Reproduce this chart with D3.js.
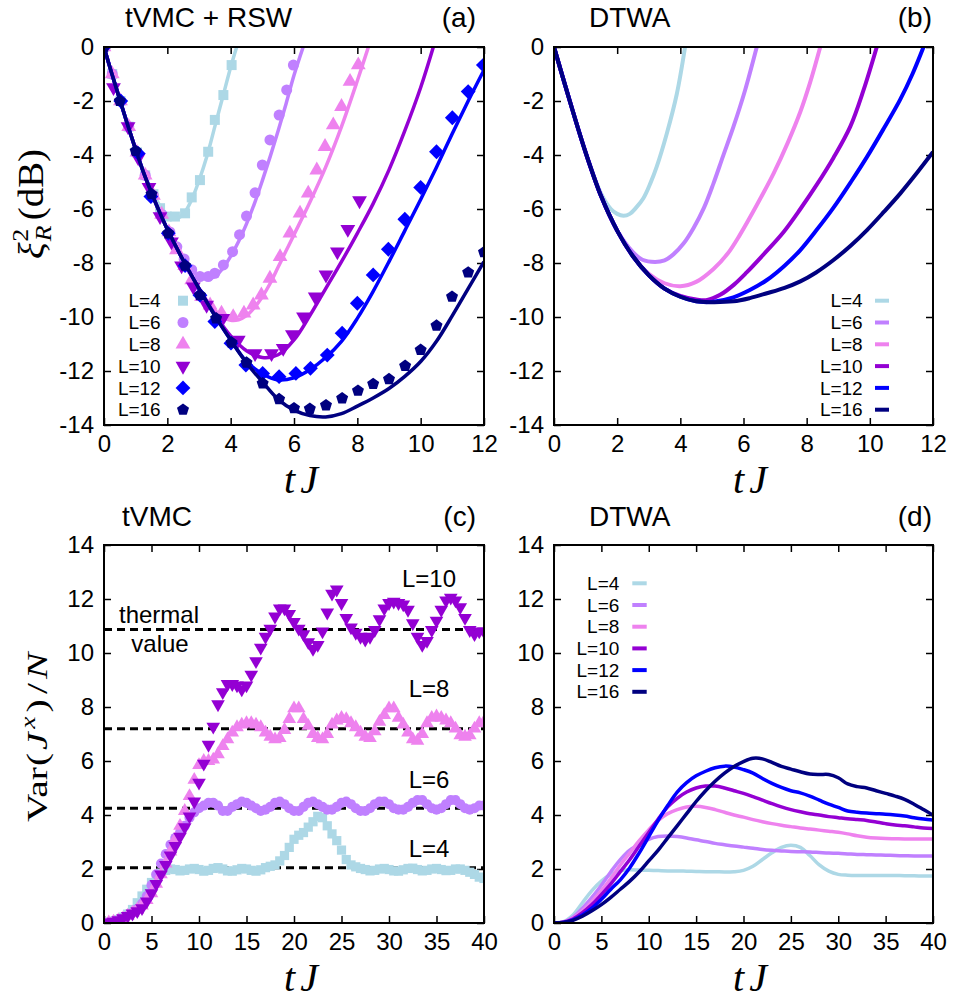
<!DOCTYPE html>
<html><head><meta charset="utf-8">
<script src="https://cdn.jsdelivr.net/npm/d3@7"></script>
<style>body{margin:0;background:#fff}</style>
</head><body>
<svg id="fig" width="954" height="1001"></svg>
<script>
// ---------- data ----------
const seriesLabels = ["L=4","L=6","L=8","L=10","L=12","L=16"];
const colors = ["#add8e6","#c080ff","#ee82ee","#9400d3","#0000ff","#000080"];
const xTicksTop = [0,2,4,6,8,10,12];
const yTicksTop = [0,-2,-4,-6,-8,-10,-12,-14];
const xTicksBottom = [0,5,10,15,20,25,30,35,40];
const yTicksBottom = [0,2,4,6,8,10,12,14];

// (a) tVMC markers [tJ, xi2 dB]
const a4Pts = [[0,0],[0.26,-1.0],[0.52,-2.0],[0.78,-2.95],[1.04,-3.9],[1.3,-4.75],[1.56,-5.45],[1.77,-5.97],[1.98,-6.28],[2.24,-6.28],[2.56,-6.16],[2.77,-5.57],[3.03,-4.93],[3.29,-3.88],[3.5,-2.7],[3.77,-1.78],[4.03,-0.67]];
const a6Pts = [[0,0],[0.26,-1.0],[0.52,-2.0],[0.78,-2.95],[1.04,-3.9],[1.3,-4.75],[1.56,-5.5],[1.82,-6.2],[2.08,-6.85],[2.3,-7.4],[2.53,-7.85],[2.77,-8.25],[3.03,-8.5],[3.29,-8.5],[3.5,-8.38],[3.77,-8.07],[4.06,-7.58],[4.28,-6.95],[4.5,-6.26],[4.77,-5.4],[5.0,-4.37],[5.24,-3.44],[5.53,-2.52],[5.77,-1.59],[5.98,-0.67]];
const a8Pts = [[0,0],[0.26,-1.0],[0.52,-2.0],[0.78,-2.95],[1.04,-3.9],[1.3,-4.75],[1.56,-5.5],[1.82,-6.2],[2.05,-6.85],[2.29,-7.52],[2.55,-8.1],[2.77,-8.63],[3.08,-9.25],[3.35,-9.56],[3.71,-9.86],[4.08,-9.99],[4.42,-9.86],[4.71,-9.56],[4.97,-9.19],[5.24,-8.57],[5.56,-7.77],[5.87,-6.9],[6.19,-6.16],[6.45,-5.42],[6.72,-4.56],[6.98,-3.69],[7.24,-2.89],[7.5,-2.21],[7.77,-1.28],[8.03,-0.67]];
const a10Pts = [[0,0],[0.3,-1.5],[0.76,-2.95],[1.08,-4.1],[1.42,-5.2],[1.77,-6.28],[2.13,-7.21],[2.45,-8.1],[2.82,-8.88],[3.24,-9.56],[3.75,-10.05],[4.24,-10.85],[4.77,-11.35],[5.29,-11.35],[5.66,-11.16],[5.95,-10.65],[6.3,-9.99],[6.67,-9.25],[7.01,-8.44],[7.37,-7.58],[7.7,-6.75],[8.07,-5.69]];
const a12Pts = [[0,0],[0.53,-2.0],[1.08,-3.94],[1.48,-5.54],[2.03,-6.9],[2.56,-8.1],[3.03,-9.19],[3.5,-10.17],[4.01,-10.97],[4.48,-11.78],[5.01,-12.09],[5.53,-12.21],[6.06,-12.09],[6.52,-11.9],[7.05,-11.41],[7.52,-10.6],[8.0,-9.49],[8.5,-8.44],[8.98,-7.49],[9.5,-6.38],[10.0,-5.2],[10.5,-3.88],[11.0,-2.62],[11.5,-1.65],[11.98,-0.67]];
const a16Pts = [[0,0],[0.5,-2.0],[1.0,-3.85],[1.5,-5.45],[2.03,-6.9],[2.56,-8.1],[3.03,-9.19],[3.54,-10.05],[4.03,-10.95],[4.5,-11.69],[5.01,-12.46],[5.53,-13.04],[6.0,-13.38],[6.5,-13.4],[7.01,-13.27],[7.52,-13.01],[8.02,-12.73],[8.5,-12.48],[9.0,-12.3],[9.51,-11.81],[10.0,-11.22],[10.5,-10.32],[10.99,-9.25],[11.5,-8.35],[12.0,-7.6]];

// (a) RSW lines
const a4Line = [[0,0],[0.25,-1.0],[0.5,-1.95],[0.75,-2.9],[1.0,-3.8],[1.25,-4.6],[1.5,-5.3],[1.75,-5.85],[2.0,-6.2],[2.25,-6.35],[2.5,-6.2],[2.75,-5.7],[3.0,-4.95],[3.25,-4.05],[3.5,-2.95],[3.75,-1.85],[4.0,-0.75],[4.19,0]];
const a6Line = [[0,0],[0.25,-1.0],[0.5,-1.95],[0.75,-2.9],[1.0,-3.8],[1.25,-4.65],[1.5,-5.4],[1.75,-6.1],[2.0,-6.75],[2.25,-7.35],[2.5,-7.85],[2.75,-8.25],[3.0,-8.5],[3.25,-8.6],[3.5,-8.5],[3.75,-8.2],[4.0,-7.75],[4.25,-7.2],[4.5,-6.55],[4.75,-5.8],[5.0,-4.95],[5.25,-4.05],[5.5,-3.1],[5.75,-2.1],[6.0,-1.05],[6.29,0]];
const a8Line = [[0,0],[0.25,-1.0],[0.5,-1.95],[0.75,-2.9],[1.0,-3.8],[1.25,-4.65],[1.5,-5.4],[1.75,-6.1],[2.0,-6.75],[2.5,-7.9],[2.75,-8.45],[3.0,-8.95],[3.25,-9.4],[3.5,-9.75],[3.75,-10.0],[4.0,-10.12],[4.25,-10.1],[4.5,-9.95],[4.75,-9.65],[5.0,-9.25],[5.25,-8.75],[5.5,-8.15],[5.75,-7.55],[6.0,-6.95],[6.5,-5.75],[7.0,-4.45],[7.5,-2.95],[8.0,-1.25],[8.35,0]];
const a10Line = [[0,0],[0.25,-1.0],[0.5,-1.95],[0.75,-2.9],[1.0,-3.8],[1.25,-4.65],[1.5,-5.4],[1.75,-6.1],[2.0,-6.75],[2.5,-7.9],[3.0,-8.95],[3.5,-9.9],[4.0,-10.7],[4.5,-11.25],[5.0,-11.5],[5.5,-11.4],[6.0,-10.85],[6.5,-9.95],[7.0,-8.95],[7.5,-7.95],[8.0,-6.9],[8.5,-5.8],[9.0,-4.55],[9.5,-3.1],[10.0,-1.5],[10.4,0]];
const a12Line = [[0,0],[0.25,-1.0],[0.5,-1.95],[0.75,-2.9],[1.0,-3.8],[1.25,-4.65],[1.5,-5.4],[1.75,-6.1],[2.0,-6.75],[2.5,-7.9],[3.0,-8.95],[3.5,-9.95],[4.0,-10.85],[4.5,-11.65],[5.0,-12.1],[5.5,-12.33],[6.0,-12.25],[6.5,-11.95],[7.0,-11.5],[7.5,-10.9],[8.0,-10.05],[8.5,-9.05],[9.0,-7.95],[9.5,-6.8],[10.0,-5.65],[10.5,-4.45],[11.0,-3.2],[11.5,-2.0],[12.0,-0.85]];
const a16Line = [[0,0],[0.25,-1.0],[0.5,-1.95],[0.75,-2.9],[1.0,-3.8],[1.25,-4.65],[1.5,-5.4],[1.75,-6.1],[2.0,-6.75],[2.5,-7.9],[3.0,-8.95],[3.5,-9.95],[4.0,-10.85],[4.5,-11.7],[5.0,-12.4],[5.5,-13.05],[6.0,-13.45],[6.5,-13.65],[7.0,-13.7],[7.5,-13.58],[8.0,-13.3],[8.5,-13.0],[9.0,-12.65],[9.5,-12.2],[10.0,-11.65],[10.5,-10.9],[11.0,-9.95],[11.5,-8.95],[12.0,-7.95]];

// (b) DTWA lines
const b4 = [[0,0],[0.5,-2.0],[1.0,-3.9],[1.5,-5.45],[1.8,-6.0],[2.0,-6.18],[2.2,-6.25],[2.4,-6.18],[2.6,-5.95],[2.83,-5.6],[3.05,-5.05],[3.25,-4.44],[3.57,-3.21],[3.89,-1.73],[4.15,0]];
const b6 = [[0,0],[0.5,-2.0],[1.0,-3.9],[1.5,-5.55],[2.0,-6.8],[2.5,-7.6],[2.8,-7.88],[3.2,-7.96],[3.5,-7.9],[3.78,-7.68],[4.1,-7.28],[4.42,-6.7],[4.75,-5.95],[5.05,-5.05],[5.35,-4.05],[5.68,-2.96],[6.05,-1.6],[6.42,0]];
const b8 = [[0,0],[0.5,-2.0],[1.0,-3.9],[1.5,-5.55],[2.0,-6.8],[2.5,-7.75],[3.0,-8.4],[3.5,-8.75],[4.0,-8.86],[4.5,-8.7],[5.05,-8.22],[5.5,-7.65],[5.89,-6.95],[6.4,-5.9],[6.95,-4.69],[7.4,-3.55],[7.8,-2.4],[8.1,-1.35],[8.43,0]];
const b10 = [[0,0],[0.5,-2.0],[1.0,-3.9],[1.5,-5.55],[2.0,-6.8],[2.5,-7.75],[3.0,-8.45],[3.5,-8.95],[4.0,-9.22],[4.5,-9.35],[4.85,-9.37],[5.26,-9.18],[5.7,-8.8],[6.1,-8.35],[6.7,-7.6],[7.27,-6.85],[7.8,-6.0],[8.32,-5.1],[8.85,-4.1],[9.38,-2.95],[9.8,-1.6],[10.22,0]];
const b12 = [[0,0],[0.5,-2.0],[1.0,-3.9],[1.5,-5.55],[2.0,-6.8],[2.5,-7.75],[3.0,-8.45],[3.5,-8.95],[4.0,-9.25],[4.5,-9.42],[5.0,-9.44],[5.68,-9.27],[6.2,-9.0],[6.74,-8.63],[7.3,-8.1],[7.8,-7.52],[8.3,-6.8],[8.85,-5.95],[9.4,-5.0],[9.91,-4.07],[10.45,-3.0],[10.96,-1.95],[11.35,-1.0],[11.7,0]];
const b16 = [[0,0],[0.5,-2.0],[1.0,-3.9],[1.5,-5.55],[2.0,-6.8],[2.5,-7.75],[3.0,-8.45],[3.5,-8.95],[4.0,-9.25],[4.5,-9.42],[5.0,-9.45],[5.68,-9.42],[6.2,-9.3],[6.74,-9.12],[7.3,-8.92],[7.8,-8.68],[8.3,-8.35],[8.85,-7.89],[9.4,-7.35],[9.91,-6.78],[10.45,-6.1],[10.96,-5.43],[11.5,-4.65],[12.0,-3.89]];

// (c) tVMC Var(Jx)/N, sampled every 0.5 in tJ
const cTimes = d3.range(0, 40.001, 0.5);
const c4 = [0,0.03,0.07,0.13,0.22,0.33,0.5,0.75,1.0,1.25, 1.5,1.7,1.85,1.95,2.0,1.98,1.93,1.95,2.0,2.02, 1.98,1.92,1.95,2.02,2.05,2.0,1.93,1.92,1.97,2.02, 2.0,1.95,1.92,1.97,2.05,2.1,2.15,2.3,2.5,2.8, 3.1,3.25,3.35,3.55,3.75,3.95,3.9,3.6,3.3,3.05, 2.7,2.35,2.15,2.08,2.02,1.98,1.93,1.95,2.0,2.02, 1.98,1.93,1.92,1.97,2.02,2.03,1.98,1.93,1.95,2.0, 2.02,1.98,1.94,1.95,2.0,2.0,1.95,1.88,1.8,1.7, 1.65];
const c6 = [0,0.02,0.05,0.1,0.17,0.27,0.38,0.52,0.72,1.0, 1.4,1.8,2.2,2.55,2.9,3.15,3.35,3.6,3.9,4.1, 4.25,4.35,4.45,4.45,4.35,4.15,4.15,4.3,4.4,4.5, 4.45,4.35,4.25,4.15,4.2,4.3,4.45,4.5,4.4,4.25, 4.15,4.15,4.3,4.45,4.5,4.4,4.3,4.2,4.2,4.3, 4.45,4.5,4.4,4.25,4.15,4.15,4.25,4.4,4.5,4.5, 4.4,4.25,4.2,4.2,4.3,4.45,4.55,4.55,4.4,4.25, 4.2,4.25,4.4,4.55,4.55,4.4,4.25,4.2,4.25,4.35, 4.35];
const c8 = [0,0.02,0.05,0.1,0.17,0.27,0.38,0.5,0.65,0.85, 1.1,1.45,1.8,2.2,2.65,3.1,3.6,4.15,4.7,5.3, 5.85,6.0,6.0,6.05,6.25,6.55,6.8,7.05,7.25,7.35, 7.4,7.4,7.35,7.25,7.05,6.9,6.8,6.85,7.15,7.55, 7.95,7.95,7.55,7.3,7.0,6.85,6.8,7.0,7.35,7.5, 7.6,7.55,7.4,7.25,7.05,6.9,6.85,7.1,7.45,7.7, 7.95,7.95,7.6,7.35,7.05,6.8,6.75,7.0,7.4,7.6, 7.65,7.6,7.5,7.4,7.2,6.95,6.9,6.95,7.2,7.4, 7.45];
const c10 = [0,0.02,0.05,0.1,0.18,0.26,0.35,0.44,0.55,0.8, 1.1,1.45,1.8,2.15,2.5,2.85,3.2,3.55,3.95,4.5, 5.2,5.9,6.6,7.27,8.1,8.55,8.85,8.85,8.8,8.65, 8.8,9.2,9.7,10.2,10.6,10.9,11.35,11.65,11.65,11.45, 11.15,10.9,10.7,10.4,10.15,10.3,10.8,11.5,12.2,12.35, 11.85,11.3,10.95,10.75,10.6,10.5,10.6,10.85,11.25,11.65, 11.85,11.9,11.85,11.8,11.6,11.1,10.6,10.3,10.45,10.85, 11.2,11.6,11.95,12.05,11.95,11.7,11.3,10.85,10.7,10.8, 10.8];
const thermal = [2.05, 4.25, 7.19, 10.87];

// (d) DTWA Var(Jx)/N, every 1 in tJ
const dTimes = d3.range(0, 41, 1);
const d4 = [0,0.05,0.3,0.75,1.2,1.55,1.8,1.93,1.97,1.96,1.95,1.94,1.93,1.93,1.92,1.91,1.9,1.9,1.89,1.9,1.95,2.1,2.35,2.6,2.8,2.88,2.8,2.5,2.15,1.92,1.8,1.77,1.76,1.76,1.76,1.76,1.76,1.75,1.75,1.74,1.74];
const d6 = [0,0.04,0.22,0.55,0.95,1.4,1.9,2.35,2.7,2.9,3.1,3.2,3.22,3.2,3.15,3.08,3.02,2.95,2.9,2.85,2.81,2.77,2.72,2.69,2.67,2.65,2.64,2.63,2.61,2.59,2.58,2.56,2.54,2.53,2.52,2.51,2.5,2.49,2.48,2.48,2.48];
const d8 = [0,0.03,0.18,0.45,0.8,1.2,1.65,2.15,2.6,3.05,3.45,3.8,4.05,4.2,4.3,4.32,4.28,4.2,4.1,4.0,3.92,3.83,3.75,3.68,3.62,3.57,3.52,3.48,3.44,3.4,3.36,3.3,3.23,3.18,3.15,3.13,3.12,3.11,3.11,3.11,3.11];
const d10 = [0,0.03,0.15,0.38,0.68,1.05,1.45,1.9,2.35,2.85,3.35,3.85,4.3,4.62,4.85,5.0,5.07,5.07,5.0,4.9,4.8,4.68,4.55,4.42,4.3,4.2,4.12,4.05,4.0,3.94,3.9,3.86,3.83,3.8,3.74,3.68,3.63,3.6,3.56,3.52,3.5];
const d12 = [0,0.02,0.12,0.3,0.55,0.88,1.25,1.6,2.05,2.6,3.2,3.8,4.35,4.85,5.2,5.45,5.62,5.75,5.81,5.78,5.68,5.55,5.35,5.17,5.02,4.9,4.82,4.7,4.55,4.4,4.28,4.15,4.1,4.07,4.05,4.03,4.0,3.96,3.9,3.85,3.81];
const d16 = [0,0.02,0.1,0.25,0.45,0.68,0.95,1.25,1.55,1.9,2.3,2.7,3.15,3.6,4.05,4.5,4.9,5.25,5.55,5.8,5.98,6.1,6.08,5.95,5.8,5.7,5.6,5.52,5.5,5.5,5.38,5.15,5.05,5.0,4.9,4.8,4.7,4.58,4.4,4.2,3.99];

// ---------- drawing ----------
const SANS = "'Liberation Sans', Arial, Helvetica, sans-serif";
const SERIF = "'Liberation Serif', 'Times New Roman', serif";
const svg = d3.select("#fig");
const defs = svg.append("defs");

function panel(id, x0, y0, w, h, xdom, ydom, xt, yt){
  const x = d3.scaleLinear().domain(xdom).range([x0, x0 + w]);
  const y = d3.scaleLinear().domain(ydom).range([y0 + h, y0]);
  defs.append("clipPath").attr("id", id).append("rect")
    .attr("x", x0).attr("y", y0).attr("width", w).attr("height", h);
  const g = svg.append("g");
  const fmt = d => String(d);
  g.append("g").attr("transform", `translate(0,${y0 + h})`)
    .call(d3.axisBottom(x).tickValues(xt).tickSize(-7).tickPadding(10).tickFormat(fmt));
  g.append("g").attr("transform", `translate(0,${y0})`)
    .call(d3.axisTop(x).tickValues(xt).tickSize(-7).tickFormat(""));
  g.append("g").attr("transform", `translate(${x0},0)`)
    .call(d3.axisLeft(y).tickValues(yt).tickSize(-7).tickPadding(10).tickFormat(fmt));
  g.append("g").attr("transform", `translate(${x0 + w},0)`)
    .call(d3.axisRight(y).tickValues(yt).tickSize(-7).tickFormat(""));
  g.selectAll(".domain").remove();
  g.selectAll(".tick line").attr("stroke", "#000").attr("stroke-width", 1.5);
  g.selectAll(".tick text").attr("font-family", SANS).attr("font-size", 24).attr("fill", "#000");
  const data = svg.append("g").attr("clip-path", `url(#${id})`);
  return {x, y, data, frame: () => svg.append("rect").attr("x", x0).attr("y", y0)
    .attr("width", w).attr("height", h).attr("fill", "none").attr("stroke", "#000").attr("stroke-width", 2)};
}

const symPent = {draw(ctx, size){
  const r = Math.sqrt(size / (2.5 * Math.sin(2 * Math.PI / 5)));
  for (let i = 0; i < 5; i++){
    const a = -Math.PI / 2 + i * 2 * Math.PI / 5;
    const px = r * Math.cos(a), py = r * Math.sin(a);
    if (i === 0) ctx.moveTo(px, py); else ctx.lineTo(px, py);
  }
  ctx.closePath();
}};
const markers = [
  {type: d3.symbolSquare, size: 100, rot: 0},
  {type: d3.symbolCircle, size: 95, rot: 0},
  {type: d3.symbolTriangle, size: 95, rot: 0},
  {type: d3.symbolTriangle, size: 95, rot: 180},
  {type: d3.symbolSquare, size: 110, rot: 45},
  {type: symPent, size: 95, rot: 0}
];

function drawPts(p, pts, i, scale){
  const m = markers[i];
  p.data.append("g").selectAll("path").data(pts).join("path")
    .attr("d", d3.symbol(m.type, m.size * scale))
    .attr("transform", d => `translate(${p.x(d[0])},${p.y(d[1])}) rotate(${m.rot})`)
    .attr("fill", colors[i]);
}
function drawLine(p, pts, i, width){
  const line = d3.line().x(d => p.x(d[0])).y(d => p.y(d[1])).curve(d3.curveCatmullRom.alpha(0.5));
  p.data.append("path").datum(pts).attr("d", line).attr("fill", "none")
    .attr("stroke", colors[i]).attr("stroke-width", width).attr("stroke-linejoin", "round");
}

// ----- panel (a)
const pA = panel("clipA", 104, 47, 380, 378, [0, 12], [-14, 0], xTicksTop, yTicksTop);
const aPts = [a4Pts, a6Pts, a8Pts, a10Pts, a12Pts, a16Pts];
const aLines = [a4Line, a6Line, a8Line, a10Line, a12Line, a16Line];
aPts.forEach((pts, i) => { drawPts(pA, pts, i, 1); drawLine(pA, aLines[i], i, 3.5); });
pA.frame();

// ----- panel (b)
const pB = panel("clipB", 554, 47, 379, 378, [0, 12], [-14, 0], xTicksTop, yTicksTop);
[b4, b6, b8, b10, b12, b16].forEach((pts, i) => drawLine(pB, pts, i, 4));
pB.frame();

// ----- panel (c)
const pC = panel("clipC", 104, 545, 380, 378, [0, 40], [0, 14], xTicksBottom, yTicksBottom);
thermal.forEach(v => {
  pC.data.append("line").attr("x1", pC.x(0)).attr("x2", pC.x(40))
    .attr("y1", pC.y(v)).attr("y2", pC.y(v)).attr("stroke", "#000")
    .attr("stroke-width", 3).attr("stroke-dasharray", "8,5");
});
[c4, c6, c8, c10].forEach((vals, i) => drawPts(pC, cTimes.map((t, k) => [t, vals[k]]), i, 0.85));
pC.frame();

// ----- panel (d)
const pD = panel("clipD", 554, 545, 379, 378, [0, 40], [0, 14], xTicksBottom, yTicksBottom);
[d4, d6, d8, d10, d12, d16].forEach((vals, i) => drawLine(pD, dTimes.map((t, k) => [t, vals[k]]), i, 3.5));
pD.frame();

// ----- legends
const legY = [300.7, 322.5, 344.3, 366.1, 387.9, 409.7];
seriesLabels.forEach((lab, i) => {
  svg.append("text").attr("x", 160.7).attr("y", legY[i]).attr("dy", "0.35em").attr("text-anchor", "end")
    .attr("font-family", SANS).attr("font-size", 19).text(lab);
  const m = markers[i];
  svg.append("path").attr("d", d3.symbol(m.type, m.size))
    .attr("transform", `translate(183,${legY[i]}) rotate(${m.rot})`).attr("fill", colors[i]);
  svg.append("text").attr("x", 862.7).attr("y", legY[i]).attr("dy", "0.35em").attr("text-anchor", "end")
    .attr("font-family", SANS).attr("font-size", 19).text(lab);
  svg.append("line").attr("x1", 875).attr("x2", 889).attr("y1", legY[i]).attr("y2", legY[i])
    .attr("stroke", colors[i]).attr("stroke-width", 4);
});
const legYd = [583.3, 605.0, 626.7, 648.4, 670.1, 691.8];
seriesLabels.forEach((lab, i) => {
  svg.append("text").attr("x", 619.3).attr("y", legYd[i]).attr("dy", "0.35em").attr("text-anchor", "end")
    .attr("font-family", SANS).attr("font-size", 19).text(lab);
  svg.append("line").attr("x1", 632.3).attr("x2", 646.7).attr("y1", legYd[i]).attr("y2", legYd[i])
    .attr("stroke", colors[i]).attr("stroke-width", 4);
});

// ----- annotations in (c)
function txt(x, y, s, size, anchor){
  return svg.append("text").attr("x", x).attr("y", y).attr("text-anchor", anchor || "start")
    .attr("font-family", SANS).attr("font-size", size).attr("fill", "#000").text(s);
}
txt(159, 623, "thermal", 24, "middle");
txt(160, 652, "value", 24, "middle");
txt(429, 587, "L=10", 24, "middle");
txt(429, 697, "L=8", 24, "middle");
txt(429, 788, "L=6", 24, "middle");
txt(429, 857, "L=4", 24, "middle");

// ----- titles
txt(125, 27, "tVMC + RSW", 28);
txt(476, 27, "(a)", 28, "end");
txt(589, 27, "DTWA", 28);
txt(932, 27, "(b)", 28, "end");
txt(122, 526, "tVMC", 28);
txt(476, 526, "(c)", 28, "end");
txt(589, 526, "DTWA", 28);
txt(932, 526, "(d)", 28, "end");

// ----- axis labels
function tJ(cx, by){
  const t = svg.append("text").attr("x", cx).attr("y", by).attr("text-anchor", "middle")
    .attr("font-family", SERIF).attr("font-size", 40).attr("font-style", "italic");
  t.append("tspan").text("t");
  t.append("tspan").attr("dx", 5).text("J");
}
tJ(301, 493); tJ(750, 493); tJ(301, 991); tJ(750, 991);

// rotated labels, fitted to the span they occupy in the figure
function fitRotated(t, bx, cy, len){
  const bb = t.node().getBBox();
  const s = len / bb.width;
  const mid = bb.x + bb.width / 2;
  t.attr("transform", `translate(${bx},${cy}) rotate(-90) scale(${s},1) translate(${-mid},0)`);
}
const yl = svg.append("text").attr("font-family", SERIF).attr("font-size", 36);
yl.append("tspan").attr("font-style", "italic").text("ξ");
yl.append("tspan").attr("font-style", "italic").attr("font-size", 24).attr("dx", 1).attr("dy", 8).text("R");
yl.append("tspan").attr("font-size", 24).attr("dx", -15).attr("dy", -23).text("2");
yl.append("tspan").attr("dx", 8).attr("dy", 15).text("(dB)");
fitRotated(yl, 43, 204, 110);

const vl = svg.append("text").attr("font-family", SERIF).attr("font-size", 30);
vl.append("tspan").text("Var");
vl.append("tspan").attr("dx", 1).text("(");
vl.append("tspan").attr("font-style", "italic").attr("dx", 2).text("J");
vl.append("tspan").attr("font-style", "italic").attr("font-size", 21).attr("dx", 3).attr("dy", -12).text("x");
vl.append("tspan").attr("dx", 3).attr("dy", 12).text(")");
vl.append("tspan").attr("dx", 4).text("/");
vl.append("tspan").attr("font-style", "italic").attr("dx", 3).text("N");
fitRotated(vl, 47, 736, 172);
</script>
</body></html>
